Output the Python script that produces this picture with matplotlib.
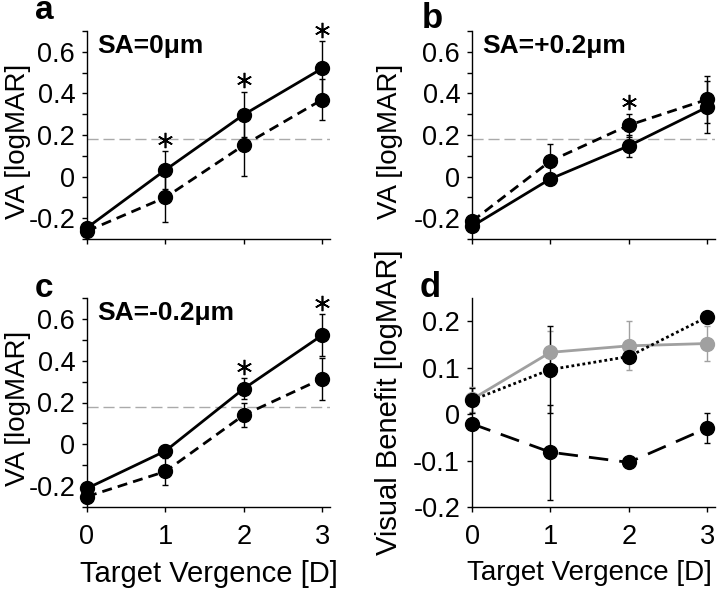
import numpy as np
import matplotlib
matplotlib.use("Agg")
import matplotlib.pyplot as plt

plt.rcParams['font.family'] = ['Liberation Sans', 'DejaVu Sans']

# target vergence [D]
x = [0, 1, 2, 3]

# panel a, SA=0um
a_solid = [-0.246, 0.032, 0.298, 0.520]
a_solid_err = [0.01, 0.09, 0.11, 0.13]
a_dash = [-0.262, -0.100, 0.151, 0.370]
a_dash_err = [0.01, 0.12, 0.15, 0.10]
a_stars = [1, 2, 3]

# panel b, SA=+0.2um
b_solid = [-0.239, -0.011, 0.148, 0.334]
b_solid_err = [0.01, 0.015, 0.053, 0.125]
b_dash = [-0.215, 0.075, 0.247, 0.371]
b_dash_err = [0.01, 0.08, 0.055, 0.115]
b_stars = [2]

# panel c, SA=-0.2um
c_solid = [-0.211, -0.032, 0.266, 0.522]
c_solid_err = [0.01, 0.03, 0.05, 0.10]
c_dash = [-0.250, -0.130, 0.140, 0.314]
c_dash_err = [0.01, 0.065, 0.056, 0.10]
c_stars = [2, 3]

# panel d, visual benefit
d_gray = [0.032, 0.133, 0.147, 0.152]
d_gray_err = [0.027, 0.047, 0.053, 0.038]
d_dot = [0.030, 0.096, 0.124, 0.209]
d_dot_err = [0.027, 0.093, 0.01, 0.01]
d_dash = [-0.021, -0.082, -0.104, -0.030]
d_dash_err = [0.01, 0.102, 0.005, 0.032]

threshold = 0.18
W, H = 717.0, 589.0

fig = plt.figure(figsize=(7.17, 5.89), dpi=100)

def box(left, top, right, bottom):
    return [left/W, 1-bottom/H, (right-left)/W, (bottom-top)/H]

ax_a = fig.add_axes(box(87, 31, 330, 239))
ax_b = fig.add_axes(box(472, 31, 715, 239))
ax_c = fig.add_axes(box(87, 298, 330, 507))
ax_d = fig.add_axes(box(472, 298, 715, 507))

def style(ax):
    for s in ['top', 'right']:
        ax.spines[s].set_visible(False)
    for s in ['left', 'bottom']:
        ax.spines[s].set_linewidth(1.0)
    ax.tick_params(direction='out', length=3.5, width=1, labelsize=19.5)
    ax.tick_params(axis='y', pad=5)
    ax.tick_params(axis='x', pad=9)
    ax.set_xlim(0, 3.1)
    ax.set_xticks(x)

def series(ax, y, err, color='k', dashes=None):
    eb = ax.errorbar(x, y, yerr=err, fmt='o-', color=color, ms=10, lw=2,
                     capsize=2.5, elinewidth=1, capthick=1, clip_on=False, zorder=3)
    if dashes is not None:
        eb[0].set_dashes(dashes)
    for c in eb[1]:
        c.set_clip_on(False)
    for c in eb[2]:
        c.set_clip_on(False)

def va_panel(ax, solid, solid_err, dash, dash_err, stars, title):
    style(ax)
    ax.set_ylim(-0.3, 0.7)
    ticks = np.round(np.arange(-0.3, 0.71, 0.1), 1)
    ax.set_yticks(ticks)
    labels = []
    for t in ticks:
        if abs(t*10) % 2 < 0.5:
            labels.append('0' if abs(t) < 1e-9 else '%g' % t)
        else:
            labels.append('')
    ax.set_yticklabels(labels)
    ax.axhline(threshold, color='#aaaaaa', lw=1, dashes=(8, 3.5), zorder=1)
    series(ax, dash, dash_err, dashes=(3.6, 2.2))
    series(ax, solid, solid_err)
    for i in stars:
        top = max(solid[i] + solid_err[i], dash[i] + dash_err[i])
        ax.plot(x[i], top + 0.055, marker=(6, 2, 0), ms=11, mew=1.2, color='k',
                clip_on=False, zorder=4)
    ax.text(0.04, 0.985, title, transform=ax.transAxes, fontsize=19,
            fontweight='bold', va='top', ha='left')
    ax.set_ylabel('VA [logMAR]', fontsize=20)

va_panel(ax_a, a_solid, a_solid_err, a_dash, a_dash_err, a_stars, 'SA=0μm')
va_panel(ax_b, b_solid, b_solid_err, b_dash, b_dash_err, b_stars, 'SA=+0.2μm')
va_panel(ax_c, c_solid, c_solid_err, c_dash, c_dash_err, c_stars, 'SA=-0.2μm')

style(ax_d)
ax_d.set_ylim(-0.2, 0.25)
ax_d.set_yticks([-0.2, -0.1, 0, 0.1, 0.2])
ax_d.set_yticklabels(['-0.2', '-0.1', '0', '0.1', '0.2'])
series(ax_d, d_gray, d_gray_err, color='#a0a0a0')
series(ax_d, d_dot, d_dot_err, dashes=(1, 1))
series(ax_d, d_dash, d_dash_err, dashes=(7, 4))
ax_d.set_ylabel('Visual Benefit [logMAR]', fontsize=21)

for ax in [ax_a, ax_b]:
    ax.set_xticklabels([])
for ax in [ax_c, ax_d]:
    ax.set_xticklabels(['0', '1', '2', '3'])
ax_c.set_xlabel('Target Vergence [D]', fontsize=21)
ax_c.xaxis.set_label_coords(0.5, -0.255)
ax_d.set_xlabel('Target Vergence [D]', fontsize=20)
ax_d.xaxis.set_label_coords(0.485, -0.255)

ax_a.yaxis.set_label_coords(-0.232, 0.47)
ax_c.yaxis.set_label_coords(-0.232, 0.47)
ax_b.yaxis.set_label_coords(-0.285, 0.47)
ax_d.yaxis.set_label_coords(-0.285, 0.5)

fig.text(44/W, 1-19/H, 'a', fontsize=24, fontweight='bold', ha='center', va='baseline')
fig.text(432/W, 1-28/H, 'b', fontsize=25, fontweight='bold', ha='center', va='baseline')
fig.text(44/W, 1-297/H, 'c', fontsize=24, fontweight='bold', ha='center', va='baseline')
fig.text(430/W, 1-297/H, 'd', fontsize=25, fontweight='bold', ha='center', va='baseline')

fig.savefig('out.png', dpi=100)
